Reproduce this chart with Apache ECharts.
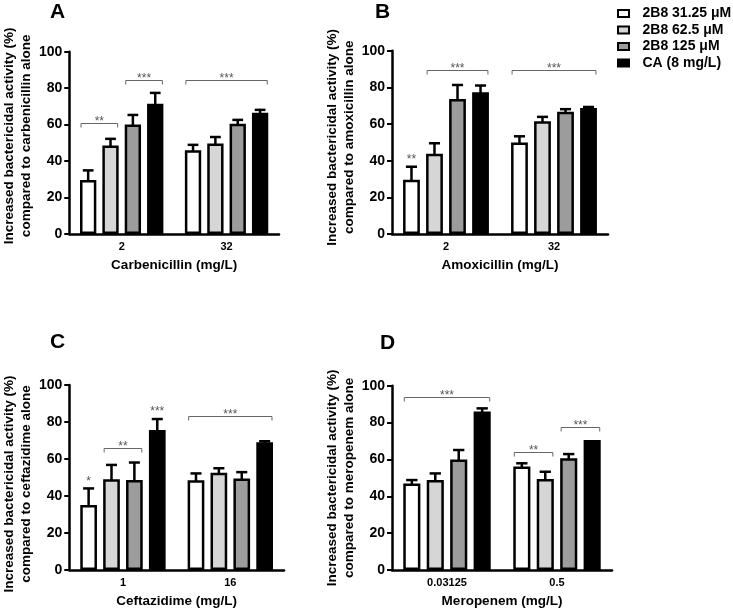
<!DOCTYPE html>
<html>
<head>
<meta charset="utf-8">
<script src="https://cdn.jsdelivr.net/npm/echarts@6/dist/echarts.min.js"></script>
<style>html,body{margin:0;padding:0;background:#fff}#c{width:733px;height:609px}</style>
</head>
<body>
<div id="c"></div>
<script>
const FONT = '"Liberation Sans", Arial, Helvetica, sans-serif';
const seriesNames = ['2B8 31.25 \u03bcM', '2B8 62.5 \u03bcM', '2B8 125 \u03bcM', 'CA (8 mg/L)'];
const seriesColors = ['#ffffff', '#d6d6d6', '#9c9c9c', '#000000'];
const yTicks = [0, 20, 40, 60, 80, 100];

// Panel A – Carbenicillin
const catsA = ['2', '32'];
const meanA = [[29.6, 46.0], [48.6, 49.6], [60.0, 60.5], [71.4, 66.5]];
const errA  = [[5.3, 2.9], [3.6, 3.6], [5.3, 2.1], [6.0, 1.6]];
const bracketsA = [[0, 0, 1, 60.7, '**'], [0, 2, 3, 84.5, '***'], [1, 0, 3, 84.5, '***']];
const starsA = [];

// Panel B – Amoxicillin
const catsB = ['2', '32'];
const meanB = [[29.6, 49.9], [43.8, 61.5], [73.7, 66.7], [77.4, 68.8]];
const errB  = [[7.1, 3.4], [5.7, 2.4], [7.6, 1.4], [3.6, 0.5]];
const bracketsB = [[0, 1, 3, 89.5, '***'], [1, 0, 3, 89.5, '***']];
const starsB = [[0, 0, 40.5, '**']];

// Panel C – Ceftazidime
const catsC = ['1', '16'];
const meanC = [[35.1, 48.5], [49.1, 52.6], [48.6, 49.4], [75.7, 69.0]];
const errC  = [[9.0, 3.7], [7.7, 2.4], [9.5, 3.5], [5.9, 0.6]];
const bracketsC = [[0, 1, 2, 66.1, '**'], [1, 0, 3, 83.2, '***']];
const starsC = [[0, 0, 47.5, '*'], [0, 3, 85.5, '***']];

// Panel D – Meropenem
const catsD = ['0.03125', '0.5'];
const meanD = [[47.0, 56.1], [48.8, 49.4], [60.0, 60.6], [86.0, 70.5]];
const errD  = [[1.8, 1.8], [3.6, 3.9], [5.1, 2.3], [1.7, 0]];
const bracketsD = [[0, 0, 3, 94.0, '***'], [1, 0, 1, 63.8, '**'], [1, 2, 3, 77.4, '***']];
const starsD = [];

const panels = [
  {letter: 'A', lx: 50, ly: 2, cats: catsA, mean: meanA, err: errA, brackets: bracketsA, stars: starsA,
   xName: 'Carbenicillin (mg/L)', yName: 'Increased bactericidal activity (%)\ncompared to carbenicillin alone',
   grid: {left: 65, top: 51.7, width: 214, height: 182.3}, nameGap: 31, namePad: [0, 0, 0, 14]},
  {letter: 'B', lx: 375, ly: 2, cats: catsB, mean: meanB, err: errB, brackets: bracketsB, stars: starsB,
   xName: 'Amoxicillin (mg/L)', yName: 'Increased bactericidal activity (%)\ncompared to amoxicillin alone',
   grid: {left: 392, top: 50.7, width: 216, height: 183.3}, nameGap: 32, namePad: [0, 0, 0, 10]},
  {letter: 'C', lx: 50, ly: 332, cats: catsC, mean: meanC, err: errC, brackets: bracketsC, stars: starsC,
   xName: 'Ceftazidime (mg/L)', yName: 'Increased bactericidal activity (%)\ncompared to ceftazidime alone',
   grid: {left: 66, top: 385, width: 218, height: 185}, nameGap: 29, namePad: [0, 13, 0, 0]},
  {letter: 'D', lx: 380, ly: 333, cats: catsD, mean: meanD, err: errD, brackets: bracketsD, stars: starsD,
   xName: 'Meropenem (mg/L)', yName: 'Increased bactericidal activity (%)\ncompared to meropenem alone',
   grid: {left: 392, top: 385.7, width: 220, height: 184.3}, nameGap: 29, namePad: [0, 0, 0, 0]}
];

const N = 4, BARGAP = 0.37, CATGAP = 0.205, BORDER = 2.5;
function barGeom(api, s) {
  const band = api.size([1, 0])[0];
  const groupW = band * (1 - CATGAP);
  const bw = groupW / (N + (N - 1) * BARGAP);
  const off = -groupW / 2 + bw / 2 + s * bw * (1 + BARGAP);
  return {bw: bw, off: off};
}

const grids = [], xAxes = [], yAxes = [], series = [], graphics = [];
panels.forEach(function (p, pi) {
  grids.push(p.grid);
  xAxes.push({
    type: 'category', gridIndex: pi, data: p.cats,
    axisLine: {lineStyle: {color: '#000', width: 2.5}},
    axisTick: {alignWithLabel: true, length: 5, lineStyle: {color: '#000', width: 2}},
    axisLabel: {fontSize: 11, fontWeight: 'bold', color: '#000', margin: 7, fontFamily: FONT},
    name: p.xName, nameLocation: 'middle', nameGap: 24,
    nameTextStyle: {fontSize: 13.5, fontWeight: 'bold', color: '#000', fontFamily: FONT}
  });
  yAxes.push({
    type: 'value', gridIndex: pi, min: yTicks[0], max: yTicks[yTicks.length - 1], interval: yTicks[1] - yTicks[0],
    splitLine: {show: false},
    axisLine: {show: true, lineStyle: {color: '#000', width: 2.5}},
    axisTick: {show: true, length: 5, lineStyle: {color: '#000', width: 2}},
    axisLabel: {fontSize: 14, fontWeight: 'bold', color: '#000', margin: 7, fontFamily: FONT},
    name: p.yName, nameLocation: 'middle', nameGap: p.nameGap,
    nameTextStyle: {fontSize: 13.5, fontWeight: 'bold', color: '#000', lineHeight: 17, fontFamily: FONT, padding: p.namePad}
  });
  for (let s = 0; s < N; s++) {
    series.push({
      type: 'bar', name: seriesNames[s], xAxisIndex: pi, yAxisIndex: pi,
      data: p.mean[s], barGap: (BARGAP * 100) + '%', barCategoryGap: (CATGAP * 100) + '%',
      itemStyle: {color: seriesColors[s], borderColor: '#000', borderWidth: BORDER},
      emphasis: {disabled: true}, z: 2
    });
  }
  const errData = [];
  for (let s = 0; s < N; s++) for (let c = 0; c < p.cats.length; c++) errData.push([c, s, p.mean[s][c], p.err[s][c]]);
  series.push({
    type: 'custom', xAxisIndex: pi, yAxisIndex: pi, data: errData, z: 3, silent: true,
    renderItem: function (params, api) {
      const c = api.value(0), s = api.value(1), m = api.value(2), e = api.value(3);
      if (!(e > 0)) return null;
      const g = barGeom(api, s);
      const p0 = api.coord([c, m]), p1 = api.coord([c, m + e]);
      const x = p0[0] + g.off, cw = g.bw * 0.66;
      return {type: 'group', children: [
        {type: 'line', shape: {x1: x, y1: p0[1] + 1, x2: x, y2: p1[1]}, style: {stroke: '#000', lineWidth: 2.5}},
        {type: 'line', shape: {x1: x - cw / 2, y1: p1[1], x2: x + cw / 2, y2: p1[1]}, style: {stroke: '#000', lineWidth: 2.5}}
      ]};
    }
  });
  const br = p.brackets;
  series.push({
    type: 'custom', xAxisIndex: pi, yAxisIndex: pi, data: br.map(function (b) { return b.slice(0, 4); }), z: 4, silent: true, clip: false,
    renderItem: function (params, api) {
      const c = api.value(0), f = api.value(1), t = api.value(2), yv = api.value(3);
      const gf = barGeom(api, f), gt = barGeom(api, t);
      const pc = api.coord([c, yv]);
      const x1 = pc[0] + gf.off - gf.bw / 2 + 1, x2 = pc[0] + gt.off + gt.bw / 2 - 1, y = Math.round(pc[1]) + 0.5;
      return {type: 'group', children: [
        {type: 'polyline', shape: {points: [[x1, y + 4], [x1, y], [x2, y], [x2, y + 4]]}, style: {stroke: '#666', lineWidth: 1, fill: null}},
        {type: 'text', x: (x1 + x2) / 2, y: y - 2, style: {text: br[params.dataIndex][4], fill: '#555', fontSize: 12, fontFamily: FONT, align: 'center', verticalAlign: 'middle'}}
      ]};
    }
  });
  const st = p.stars;
  if (st.length) series.push({
    type: 'custom', xAxisIndex: pi, yAxisIndex: pi, data: st.map(function (b) { return b.slice(0, 3); }), z: 4, silent: true, clip: false,
    renderItem: function (params, api) {
      const c = api.value(0), s = api.value(1), yv = api.value(2);
      const g = barGeom(api, s);
      const pc = api.coord([c, yv]);
      return {type: 'text', x: pc[0] + g.off, y: pc[1], style: {text: st[params.dataIndex][3], fill: '#555', fontSize: 12, fontFamily: FONT, align: 'center', verticalAlign: 'middle'}};
    }
  });
  graphics.push({type: 'text', left: p.lx, top: p.ly, style: {text: p.letter, font: 'bold 21px ' + FONT, fill: '#000'}});
});

const chart = echarts.init(document.getElementById('c'), null, {renderer: 'canvas'});
chart.setOption({
  animation: false,
  backgroundColor: '#fff',
  textStyle: {fontFamily: FONT},
  grid: grids, xAxis: xAxes, yAxis: yAxes, series: series, graphic: graphics,
  legend: {
    orient: 'vertical', left: 617, top: 6.5, padding: 0, data: seriesNames, icon: 'rect',
    itemWidth: 11, itemHeight: 7, itemGap: 2.5, selectedMode: false,
    itemStyle: {borderColor: '#000', borderWidth: 2},
    textStyle: {fontSize: 14, fontWeight: 'bold', color: '#000', lineHeight: 14, fontFamily: FONT, padding: [0, 0, 0, 8.5]}
  }
});
</script>
</body>
</html>
